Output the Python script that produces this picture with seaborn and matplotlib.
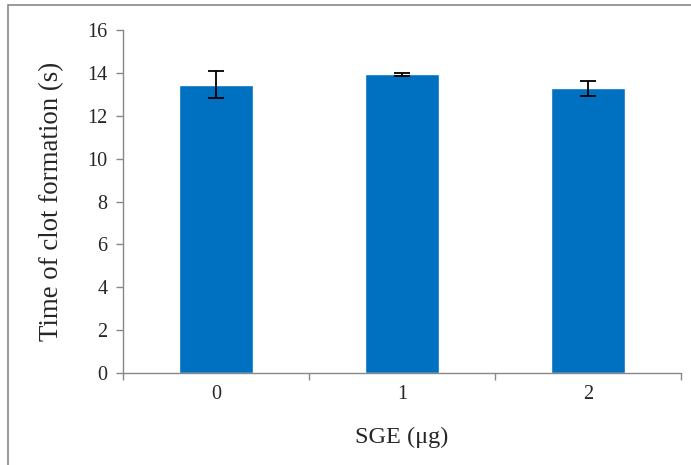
import matplotlib
matplotlib.use("Agg")
import matplotlib.pyplot as plt
from matplotlib.patches import Rectangle
from matplotlib.ticker import FixedLocator
import seaborn as sns
import pandas as pd

doses = ["0", "1", "2"]
clot_time = [13.46, 13.95, 13.29]
clot_err = [0.64, 0.07, 0.36]

sns.set_style("white")
plt.rcParams["font.family"] = ["Liberation Serif", "DejaVu Serif"]

df = pd.DataFrame({"SGE": doses, "time": clot_time})

fig = plt.figure(figsize=(6.91, 4.65), dpi=100)
ax = fig.add_axes([0.178, 0.198, 0.808, 0.737])

sns.barplot(data=df, x="SGE", y="time", color="#0070C0", width=0.4,
            saturation=1, errorbar=None, ax=ax)
ax.errorbar(range(len(doses)), clot_time, yerr=clot_err, fmt="none",
            ecolor="black", elinewidth=1.3, capsize=6, capthick=1.3)

ax.set_xlim(-0.5, 2.5)
ax.set_ylim(0, 16)
ax.set_yticks(range(0, 17, 2))
ax.xaxis.set_minor_locator(FixedLocator([-0.5, 0.5, 1.5, 2.5]))
ax.tick_params(axis="x", which="major", length=0, labelsize=14.5, pad=9)
ax.tick_params(axis="x", which="minor", length=5, width=1, color="#888888",
               direction="out", bottom=True)
ax.tick_params(axis="y", length=5, width=1, color="#888888", direction="out",
               left=True, labelsize=14.5, pad=6)

for side in ["top", "right"]:
    ax.spines[side].set_visible(False)
for side in ["left", "bottom"]:
    ax.spines[side].set_color("#888888")
    ax.spines[side].set_linewidth(1)

ax.set_xlabel("SGE (μg)", fontsize=17.5, labelpad=16)
ax.set_ylabel("Time of clot formation (s)", fontsize=19.4, labelpad=17)

# outer chart frame (cut off at right and bottom)
fig.patches.append(Rectangle((8 / 691, -0.1), 1.2, 1 - 5 / 465 + 0.1,
                             transform=fig.transFigure, fill=False,
                             edgecolor="#888888", linewidth=1.2))

fig.savefig("out.png", dpi=100)
